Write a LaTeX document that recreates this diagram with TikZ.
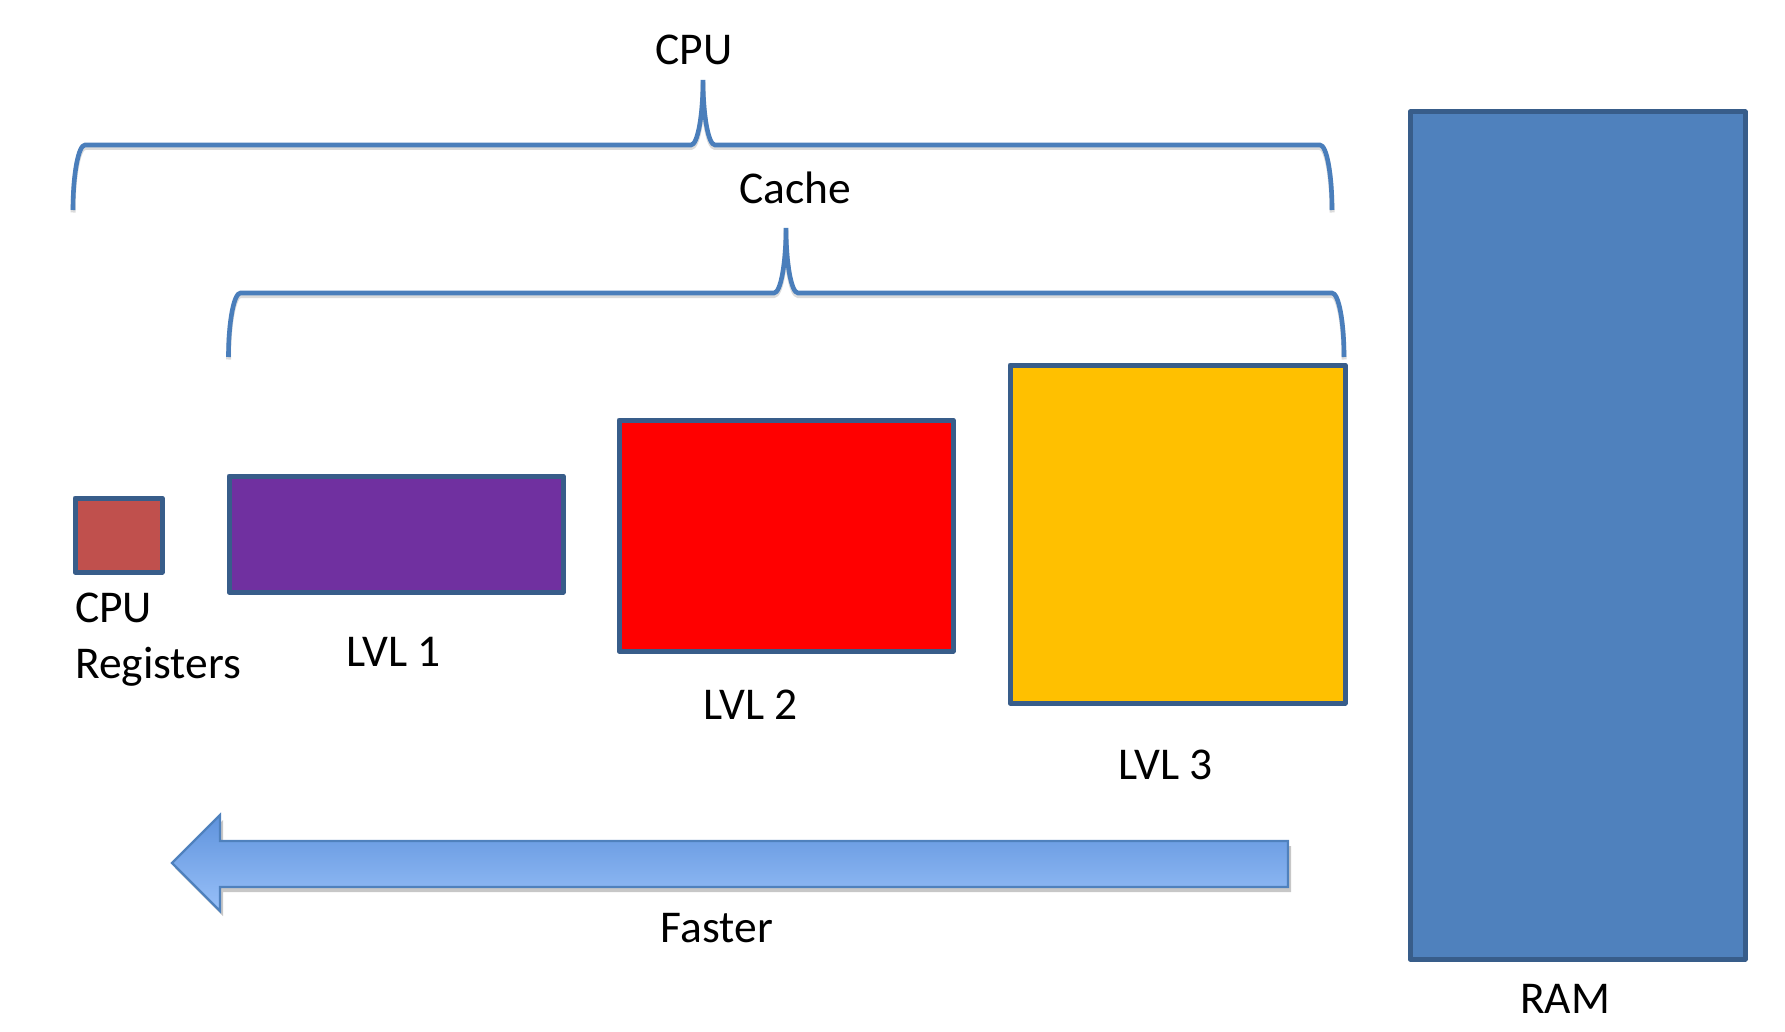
\documentclass[tikz,border=0pt]{standalone}
\usepackage{fontspec}
\setmainfont{Carlito}
\usetikzlibrary{shadows}
\definecolor{brc}{HTML}{4A7EBB}
\definecolor{edge}{HTML}{385D8A}
\definecolor{regc}{HTML}{C0504D}
\definecolor{lvla}{HTML}{7030A0}
\definecolor{lvlb}{HTML}{FF0000}
\definecolor{lvlc}{HTML}{FFC000}
\definecolor{ramc}{HTML}{4F81BD}
\definecolor{arrtop}{HTML}{5F93DD}
\definecolor{arrbot}{HTML}{98C0F8}
\definecolor{arredge}{HTML}{4F81BD}
\begin{document}
\begin{tikzpicture}[x=1pt,y=-1pt,
  box/.style={draw=edge,line width=5pt,line join=round,inner sep=0pt,outer sep=0pt},
  lbl/.style={font=\fontsize{45.5}{56}\selectfont,inner sep=0pt,anchor=base},
  bracemain/.style={draw=brc,line width=4.6pt},
  braceshadow/.style={draw=black!14,line width=5pt}]
\useasboundingbox (0,0) rectangle (1785,1032);

% braces (shadow then line)
\foreach \s/\st in {2.5/braceshadow,0/bracemain}{
  \path[\st,shift={(0,\s)}] (73,210) .. controls (73,174) and (78.4,145) .. (85,145) -- (691,145)
    .. controls (697.6,145) and (703,115.9) .. (703,80)
    .. controls (703,115.9) and (708.4,145) .. (715,145) -- (1320,145)
    .. controls (1326.6,145) and (1332,174) .. (1332,210);
  \path[\st,shift={(0,\s)}] (228.5,357) .. controls (228.5,321) and (234,293) .. (240.5,293) -- (774,293)
    .. controls (780.6,293) and (786,264) .. (786,228)
    .. controls (786,264) and (791.4,293) .. (798,293) -- (1332,293)
    .. controls (1338.6,293) and (1344,321) .. (1344,357);
}

% boxes
\node[box,fill=regc,minimum width=87pt,minimum height=74pt] (reg) at (118.5,535) {};
\node[box,fill=lvla,minimum width=334pt,minimum height=116pt] (lvlone) at (396,534) {};
\node[box,fill=lvlb,minimum width=334pt,minimum height=231pt] (lvltwo) at (786,535.5) {};
\node[box,fill=lvlc,minimum width=335pt,minimum height=338pt] (lvlthree) at (1177.5,534) {};
\node[box,fill=ramc,minimum width=335pt,minimum height=847pt] (ram) at (1577.5,535.5) {};

% arrow
\path[top color=arrtop,bottom color=arrbot,draw=arredge,line width=2.2pt,line join=miter,
  drop shadow={shadow xshift=3pt,shadow yshift=-5pt,opacity=0.22,fill=black}]
  (172,863) -- (220,815) -- (220,841) -- (1288,841) -- (1288,887) -- (220,887) -- (220,911) -- cycle;

% labels
\node[lbl] (cpulbl) at (694,65) {CPU};
\node[lbl] (cachelbl) at (795,204) {Cache};
\node[lbl,anchor=base west] (reglblA) at (75,622) {CPU};
\node[lbl,anchor=base west] (reglblB) at (75,678) {Registers};
\node[lbl] (lvlonelbl) at (394,666) {LVL 1};
\node[lbl] (lvltwolbl) at (751,719) {LVL 2};
\node[lbl] (lvlthreelbl) at (1166,779) {LVL 3};
\node[lbl] (fastlbl) at (717,942) {Faster};
\node[lbl] (ramlbl) at (1565,1013) {RAM};
\end{tikzpicture}
\end{document}
